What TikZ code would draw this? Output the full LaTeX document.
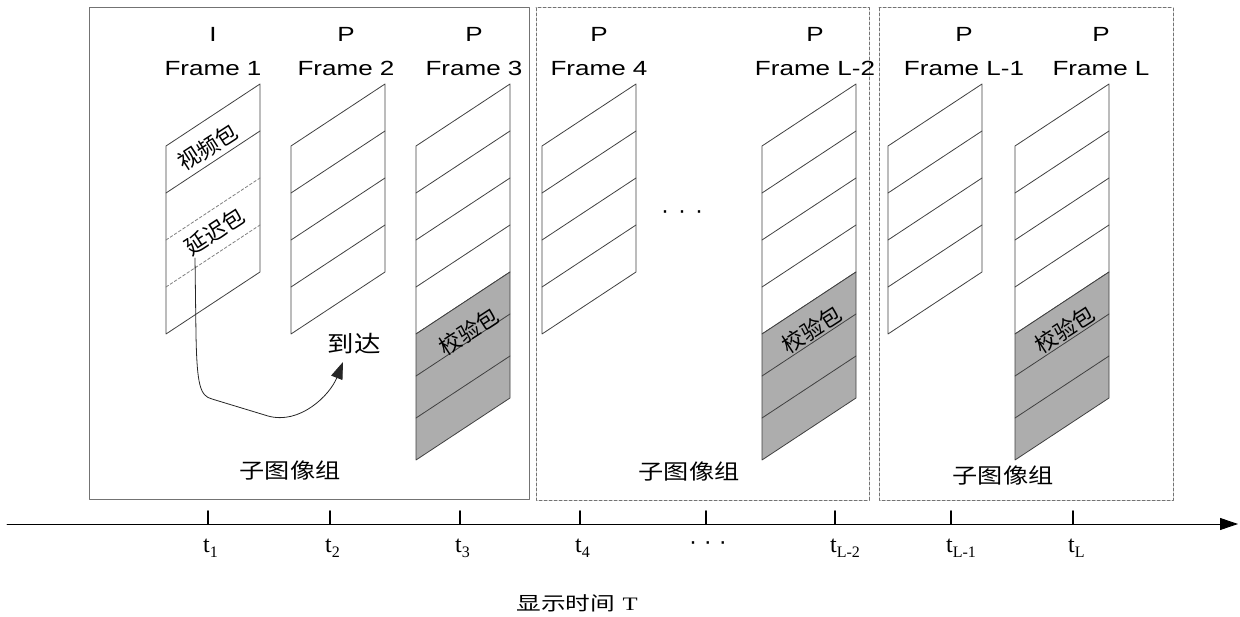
\documentclass[tikz,border=0pt]{standalone}
\usepackage{fontspec}
\newfontfamily\arial{Liberation Sans}
\newfontfamily\tms{Liberation Serif}
\newfontfamily\cjk{Noto Sans CJK SC}
\usetikzlibrary{arrows.meta}
\newcommand{\tsub}[1]{{\fontsize{16}{16}\selectfont\raisebox{-5pt}{#1}}}

\begin{document}
\begin{tikzpicture}[x=1pt,y=-1pt,line cap=round,line join=round,
  frm/.style={draw=black!75,line width=0.8pt},
  frmdash/.style={draw=black!50,line width=0.8pt,dash pattern=on 3pt off 2pt},
  chk/.style={frm,fill=black!32},
  grp/.style={draw=black!55,line width=1pt},
  grpdash/.style={grp,dash pattern=on 3pt off 2pt},
  hdr/.style={font=\arial\fontsize{20.5}{34}\selectfont,align=center,inner sep=0pt,xscale=1.27,anchor=north},
  pkt/.style={font=\cjk\fontsize{22}{24}\selectfont,inner sep=0pt,rotate=33},
  grpname/.style={font=\cjk\fontsize{21}{24}\selectfont,inner sep=0pt,xscale=1.2},
  tickmark/.style={draw=black,line width=1.6pt},
  tlbl/.style={font=\tms\fontsize{24}{26}\selectfont,inner sep=0pt,anchor=base west},
  dots/.style={font=\arial\fontsize{24}{26}\selectfont,inner sep=0pt}]
\useasboundingbox (0,0) rectangle (1240,617);
% sub-groups
\draw[grp] (89,8) rectangle (529,499);
\draw[grpdash] (536,8) rectangle (869,500);
\draw[grpdash] (879,8) rectangle (1173,500);
\node[grpname] (g1) at (290,471) {子图像组};
\node[grpname] (g2) at (689,472) {子图像组};
\node[grpname] (g3) at (1003,476) {子图像组};
% frame headers
\node[hdr] (h1) at (213,27) {I\\Frame 1};
\node[hdr] (h2) at (346,27) {P\\Frame 2};
\node[hdr] (h3) at (474,27) {P\\Frame 3};
\node[hdr] (h4) at (599,27) {P\\Frame 4};
\node[hdr] (h5) at (815,27) {P\\Frame L-2};
\node[hdr] (h6) at (964,27) {P\\Frame L-1};
\node[hdr] (h7) at (1101,27) {P\\Frame L};
% frame 1
\draw[frm] (166,146) -- (260,84) -- (260,272) -- (166,334) -- cycle;
\draw[frm] (166,193) -- (260,131);
\draw[frmdash] (166,240) -- (260,178) (166,287) -- (260,225);
\node[pkt] (vid) at (208,147) {视频包};
\node[pkt] (dly) at (215,232) {延迟包};
% frame 2
\draw[frm] (291,146) -- (385,84) -- (385,272) -- (291,334) -- cycle;
\draw[frm] (291,193) -- (385,131) (291,240) -- (385,178) (291,287) -- (385,225);
% frame 3
\draw[frm] (416,146) -- (510,84) -- (510,272) -- (416,334) -- cycle;
\draw[frm] (416,193) -- (510,131) (416,240) -- (510,178) (416,287) -- (510,225);
\draw[chk] (416,334) -- (510,272) -- (510,398) -- (416,460) -- cycle;
\draw[frm] (416,376) -- (510,314) (416,418) -- (510,356);
\node[pkt] (chk3) at (469,331) {校验包};
% frame 4
\draw[frm] (542,146) -- (636,84) -- (636,272) -- (542,334) -- cycle;
\draw[frm] (542,193) -- (636,131) (542,240) -- (636,178) (542,287) -- (636,225);
\node[dots] (fdots) at (682,215) {·\hspace{9pt}·\hspace{9pt}·};
% frame L-2
\draw[frm] (762,146) -- (856,84) -- (856,272) -- (762,334) -- cycle;
\draw[frm] (762,193) -- (856,131) (762,240) -- (856,178) (762,287) -- (856,225);
\draw[chk] (762,334) -- (856,272) -- (856,398) -- (762,460) -- cycle;
\draw[frm] (762,376) -- (856,314) (762,418) -- (856,356);
\node[pkt] (chk5) at (812,329) {校验包};
% frame L-1
\draw[frm] (888,146) -- (982,84) -- (982,272) -- (888,334) -- cycle;
\draw[frm] (888,193) -- (982,131) (888,240) -- (982,178) (888,287) -- (982,225);
% frame L
\draw[frm] (1015,146) -- (1109,84) -- (1109,272) -- (1015,334) -- cycle;
\draw[frm] (1015,193) -- (1109,131) (1015,240) -- (1109,178) (1015,287) -- (1109,225);
\draw[chk] (1015,334) -- (1109,272) -- (1109,398) -- (1015,460) -- cycle;
\draw[frm] (1015,376) -- (1109,314) (1015,418) -- (1109,356);
\node[pkt] (chk7) at (1065,329) {校验包};
% late packet arrives
\node[font=\cjk\fontsize{23}{26}\selectfont,inner sep=0pt,xscale=1.15] (arr) at (354,344) {到达};
\coordinate (dstart) at (195,258);
\coordinate (atip) at (343,362);
\draw[black!85,line width=0.8pt,-{Triangle[length=17pt,width=12pt]}] (dstart) -- (196,335)
  .. controls (197,385) and (200,396) .. (212,399) -- (268,416)
  .. controls (300,425) and (330,395) .. (atip);
% time axis
\coordinate (ax0) at (7,524);
\coordinate (ax1) at (1238,524);
\draw[line width=0.9pt,-{Triangle[length=18pt,width=12pt]}] (ax0) -- (ax1);
\draw[tickmark] (208,511) -- (208,524) (330,511) -- (330,524) (460,511) -- (460,524)
  (580,511) -- (580,524) (706,511) -- (706,524) (835,511) -- (835,524)
  (951,511) -- (951,524) (1073,511) -- (1073,524);
\node[tlbl] (t1) at (203,552) {t\tsub{1}};
\node[tlbl] (t2) at (325,552) {t\tsub{2}};
\node[tlbl] (t3) at (455,552) {t\tsub{3}};
\node[tlbl] (t4) at (575,552) {t\tsub{4}};
\node[dots] (tdots) at (708,546) {·\hspace{7pt}·\hspace{7pt}·};
\node[tlbl] (t5) at (830,552) {t\tsub{L-2}};
\node[tlbl] (t6) at (946,552) {t\tsub{L-1}};
\node[tlbl] (t7) at (1068,552) {t\tsub{L}};
\node[font=\fontsize{19}{22}\selectfont,inner sep=0pt,xscale=1.3] (axname) at (577,603) {{\cjk 显示时间}\ {\tms T}};
\end{tikzpicture}
\end{document}
